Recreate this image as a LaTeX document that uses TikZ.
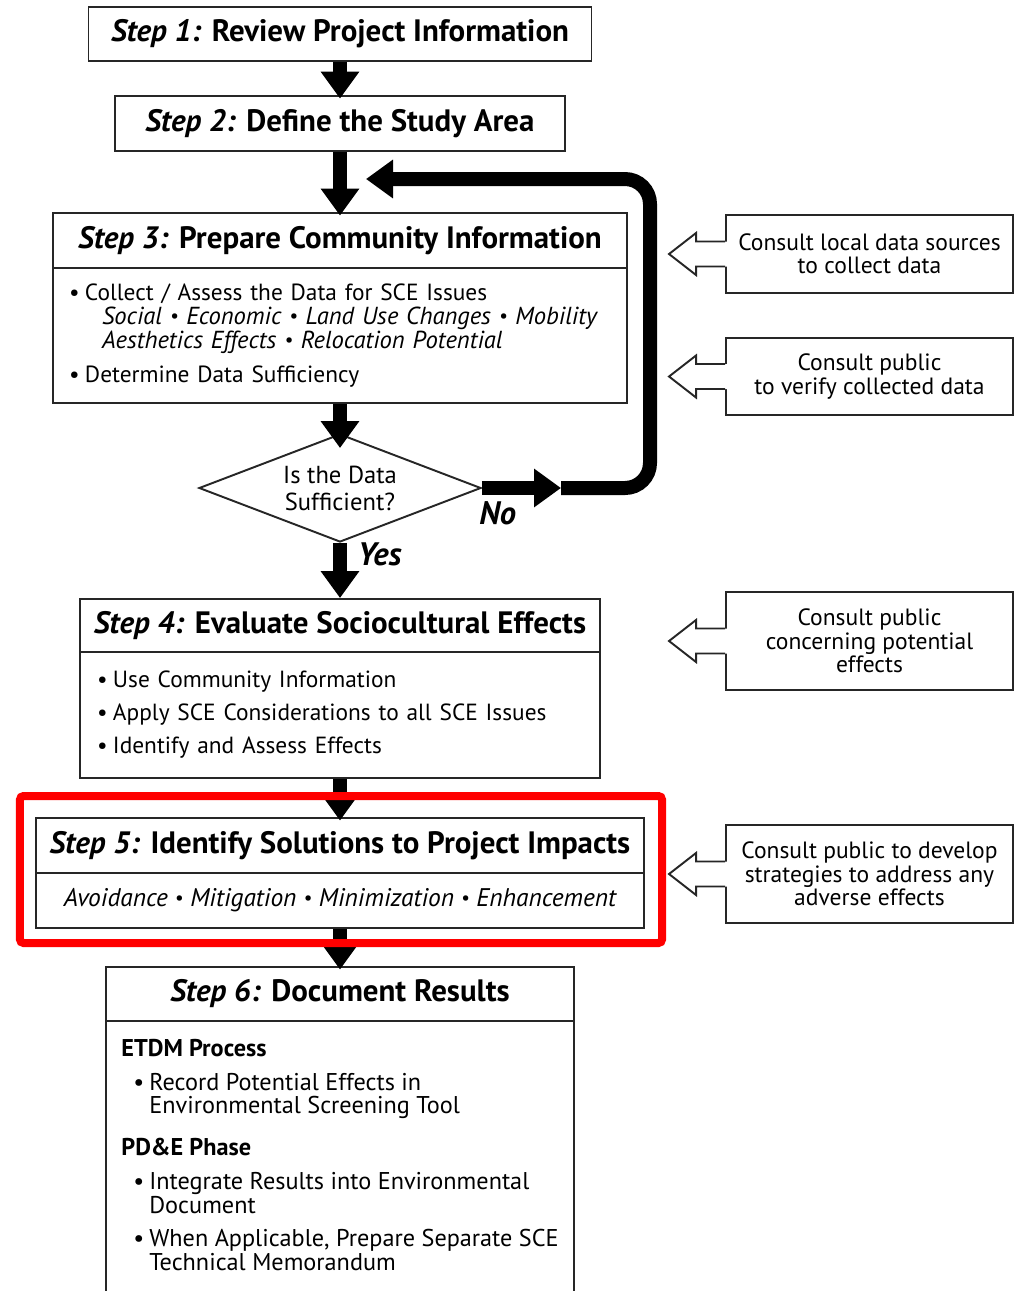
\documentclass[tikz,border=0pt]{standalone}
\usepackage{fontspec}
\setmainfont{PT Sans}
\usetikzlibrary{arrows.meta,shapes.geometric,positioning}

\newcommand{\itm}{\makebox[0.32cm][l]{\textbullet}}
\newcommand{\sepdot}{ {\fontsize{11}{11}\selectfont\raisebox{0.12em}{\textbullet}} }
\newcommand{\effects}[1]{{\itshape\fontsize{14}{13.3}\selectfont #1}}

\newcommand{\backarrow}[1]{%
\fill [white, shift={(#1.west)}] (0.04,0.25) -- (-0.58,0.25) -- (-0.58,0.42) -- (-1.12,0) -- (-0.58,-0.42) -- (-0.58,-0.25) -- (0.04,-0.25) -- cycle;
\draw [box line, shift={(#1.west)}] (0,0.25) -- (-0.58,0.25) -- (-0.58,0.42) -- (-1.12,0) -- (-0.58,-0.42) -- (-0.58,-0.25) -- (0,-0.25);
}

\begin{document}
\begin{tikzpicture}
\tikzset{box line/.style={draw=black!85, line width=1.1pt}}
\tikzstyle{head} = [rectangle, box line, text centered, minimum height=1.1cm, inner sep=0pt,
    font=\bfseries\fontsize{17.6}{20}\selectfont]
\tikzstyle{body} = [rectangle, box line, align=left, inner sep=0pt,
    font=\fontsize{13.3}{13.3}\selectfont]
\tikzstyle{txt} = [align=left, inner sep=0pt, font=\fontsize{13.8}{13.3}\selectfont]
\tikzstyle{note} = [rectangle, box line, align=center, minimum width=5.74cm,
    font=\fontsize{13.4}{13.3}\selectfont]
\tikzstyle{decision} = [diamond, box line, aspect=2.6, minimum width=5.64cm, minimum height=2.16cm,
    inner sep=0pt, align=center, font=\fontsize{14}{15.3}\selectfont]
\tikzstyle{flow} = [draw, line width=0.28cm, -{Triangle[length=0.54cm,width=0.74cm]}]
\tikzstyle{tag} = [font=\bfseries\itshape\fontsize{18.5}{20}\selectfont]

\useasboundingbox (0,0) rectangle (20.4,-25.82);

\node [head, minimum width=10.06cm, minimum height=1.08cm] (s1) at (6.8,-0.68) {\textit{Step 1:} Review Project Information};
\node [head, below of=s1, node distance=1.79cm, minimum width=9cm] (s2) {\textit{Step 2:} Define the Study Area};
\node [head, below of=s2, node distance=2.34cm, minimum width=11.48cm] (s3) {\textit{Step 3:} Prepare Community Information};
\node [body, below of=s3, node distance=1.9cm, minimum width=11.48cm, minimum height=2.7cm, text width=10.84cm,
    font=\fontsize{13.3}{13.8}\selectfont] (s3b) {%
\itm Collect / Assess the Data for SCE Issues\\
\hspace*{0.66cm}\effects{Social\sepdot Economic\sepdot Land Use Changes\sepdot Mobility}\\
\hspace*{0.66cm}\effects{Aesthetics Effects\sepdot Relocation Potential}\\[5.5pt]
\itm Determine Data Sufficiency};
\node [decision, below of=s3b, node distance=3.05cm] (dec) {Is the Data\\Sufficient?};
%
\node [head, below of=dec, node distance=2.75cm, minimum width=10.4cm, minimum height=1.06cm] (s4) {\textit{Step 4:} Evaluate Sociocultural Effects};
\node [body, below of=s4, node distance=1.79cm, minimum width=10.4cm, minimum height=2.52cm, text width=9.72cm] (s4b) {%
\itm Use Community Information\\[5.5pt]
\itm Apply SCE Considerations to all SCE Issues\\[5.5pt]
\itm Identify and Assess Effects};
\node [head, below of=s4b, node distance=2.61cm, minimum width=12.16cm] (s5) {\textit{Step 5:} Identify Solutions to Project Impacts};
\node [body, below of=s5, node distance=1.1cm, minimum width=12.16cm, minimum height=1.1cm, align=center] (s5b) {%
{\itshape\fontsize{14.5}{14}\selectfont Avoidance\sepdot Mitigation\sepdot Minimization\sepdot Enhancement}};
\node [head, below of=s5b, node distance=1.87cm, minimum width=9.36cm, minimum height=1.08cm] (s6) {\textit{Step 6:} Document Results};
\node [body, below of=s6, node distance=3.64cm, minimum width=9.36cm, minimum height=6.2cm] (s6b) {};
\node [txt, anchor=north west] (s6t) at ([xshift=0.32cm,yshift=-0.38cm]s6b.north west) {%
\textbf{ETDM Process}\\[6pt]
\hspace*{0.24cm}\itm Record Potential Effects in\\
\hspace*{0.56cm}Environmental Screening Tool\\[10.5pt]
\textbf{PD\&E Phase}\\[6pt]
\hspace*{0.24cm}\itm Integrate Results into Environmental\\
\hspace*{0.56cm}Document\\[6pt]
\hspace*{0.24cm}\itm When Applicable, Prepare Separate SCE\\
\hspace*{0.56cm}Technical Memorandum};
%
\node [note, minimum height=1.56cm] (c1) at (17.39,-5.08) {Consult local data sources\\to collect data};
\node [note, minimum height=1.54cm] (c2) at (17.39,-7.53) {Consult public\\to verify collected data};
\node [note, minimum height=1.96cm] (c3) at (17.39,-12.82) {Consult public\\concerning potential\\effects};
\node [note, minimum height=1.96cm] (c4) at (17.39,-17.48) {Consult public to develop\\strategies to address any\\adverse effects};
\backarrow{c1}
\backarrow{c2}
\backarrow{c3}
\backarrow{c4}
%
\coordinate [right of=dec, node distance=4.42cm] (nx);
\coordinate (lc) at (13.0,-3.58);
\coordinate (tp) at (7.32,-3.58);
\path [flow, shorten >=-2pt] (s1) -- (s2);
\path [flow, shorten >=-2pt] (s2) -- (s3);
\path [flow, shorten >=-0.3cm] (s3b) -- (dec);
\path [flow] (dec) -- node [tag, right, pos=0.2, xshift=0.1cm] (yes) {Yes} (s4);
\path [flow, shorten >=-2pt] (s4b) -- (s5);
\path [flow, shorten >=-2pt] (s5b) -- (s6);
\path [flow] (dec) -- node [tag, below, pos=0.2, yshift=-0.02cm] (no) {No} (nx);
\path [flow, rounded corners=0.5cm] (nx) -| (lc) -- (tp);
%
\draw [red, line width=0.16cm, rounded corners=2pt] (0.4,-15.92) rectangle (13.24,-18.86);
\end{tikzpicture}
\end{document}
